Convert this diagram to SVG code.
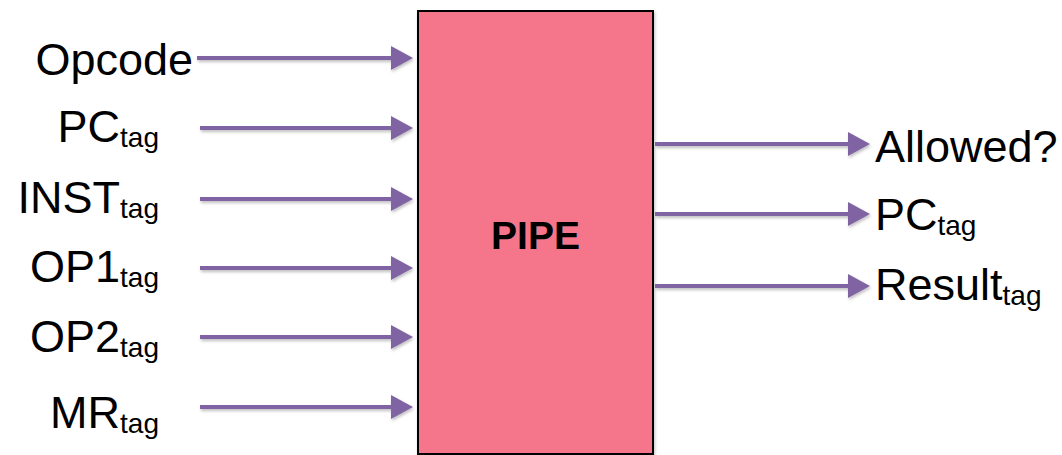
<svg xmlns="http://www.w3.org/2000/svg" width="1062" height="455" viewBox="0 0 1062 455">
  <style>
    .lbl { font-family: "Liberation Sans", Arial, sans-serif; font-size: 45px; fill: #000; }
    .sub { font-size: 28px; }
    .title { font-family: "Liberation Sans", Arial, sans-serif; font-size: 39px; font-weight: bold; fill: #000; }
    .wire { stroke: #8064A2; stroke-width: 4; fill: none; marker-end: url(#head); }
  </style>
  <defs>
    <marker id="head" viewBox="0 0 22 24" refX="0" refY="12" markerWidth="22" markerHeight="24" markerUnits="userSpaceOnUse" orient="auto">
      <path d="M0,0 L22,12 L0,24 Z" fill="#8064A2"/>
    </marker>
    <filter id="shadow" x="-5%" y="-50%" width="110%" height="200%">
      <feDropShadow dx="1" dy="2" stdDeviation="1.5" flood-color="#000" flood-opacity="0.25"/>
    </filter>
  </defs>

  <rect width="1062" height="455" fill="#fff"/>

  <!-- central block -->
  <g id="pipe">
    <rect x="418" y="11" width="235" height="443" fill="#F5768A" stroke="#000" stroke-width="2" filter="url(#shadow)"/>
    <text class="title" x="535.5" y="249" text-anchor="middle">PIPE</text>
  </g>

  <!-- signal wires -->
  <g id="connectors" filter="url(#shadow)">
    <line class="wire" x1="197" y1="58" x2="391" y2="58"/>
    <line class="wire" x1="200" y1="128" x2="391" y2="128"/>
    <line class="wire" x1="200" y1="199" x2="391" y2="199"/>
    <line class="wire" x1="200" y1="268" x2="391" y2="268"/>
    <line class="wire" x1="200" y1="337" x2="391" y2="337"/>
    <line class="wire" x1="200" y1="407" x2="391" y2="407"/>
    <line class="wire" x1="655" y1="144" x2="848" y2="144"/>
    <line class="wire" x1="655" y1="214" x2="848" y2="214"/>
    <line class="wire" x1="655" y1="286" x2="848" y2="286"/>
  </g>

  <!-- inputs -->
  <g id="in-opcode"><text class="lbl" x="193" y="75" text-anchor="end">Opcode</text></g>
  <g id="in-pc"><text class="lbl" x="159" y="142" text-anchor="end">PC<tspan class="sub" dy="5">tag</tspan></text></g>
  <g id="in-inst"><text class="lbl" x="159" y="213" text-anchor="end">INST<tspan class="sub" dy="5">tag</tspan></text></g>
  <g id="in-op1"><text class="lbl" x="159" y="282" text-anchor="end">OP1<tspan class="sub" dy="5">tag</tspan></text></g>
  <g id="in-op2"><text class="lbl" x="159" y="352" text-anchor="end">OP2<tspan class="sub" dy="5">tag</tspan></text></g>
  <g id="in-mr"><text class="lbl" x="159" y="428" text-anchor="end">MR<tspan class="sub" dy="5">tag</tspan></text></g>

  <!-- outputs -->
  <g id="out-allowed"><text class="lbl" x="875" y="162">Allowed?</text></g>
  <g id="out-pc"><text class="lbl" x="875" y="230">PC<tspan class="sub" dy="5">tag</tspan></text></g>
  <g id="out-result"><text class="lbl" x="875" y="300">Result<tspan class="sub" dy="5">tag</tspan></text></g>
</svg>
